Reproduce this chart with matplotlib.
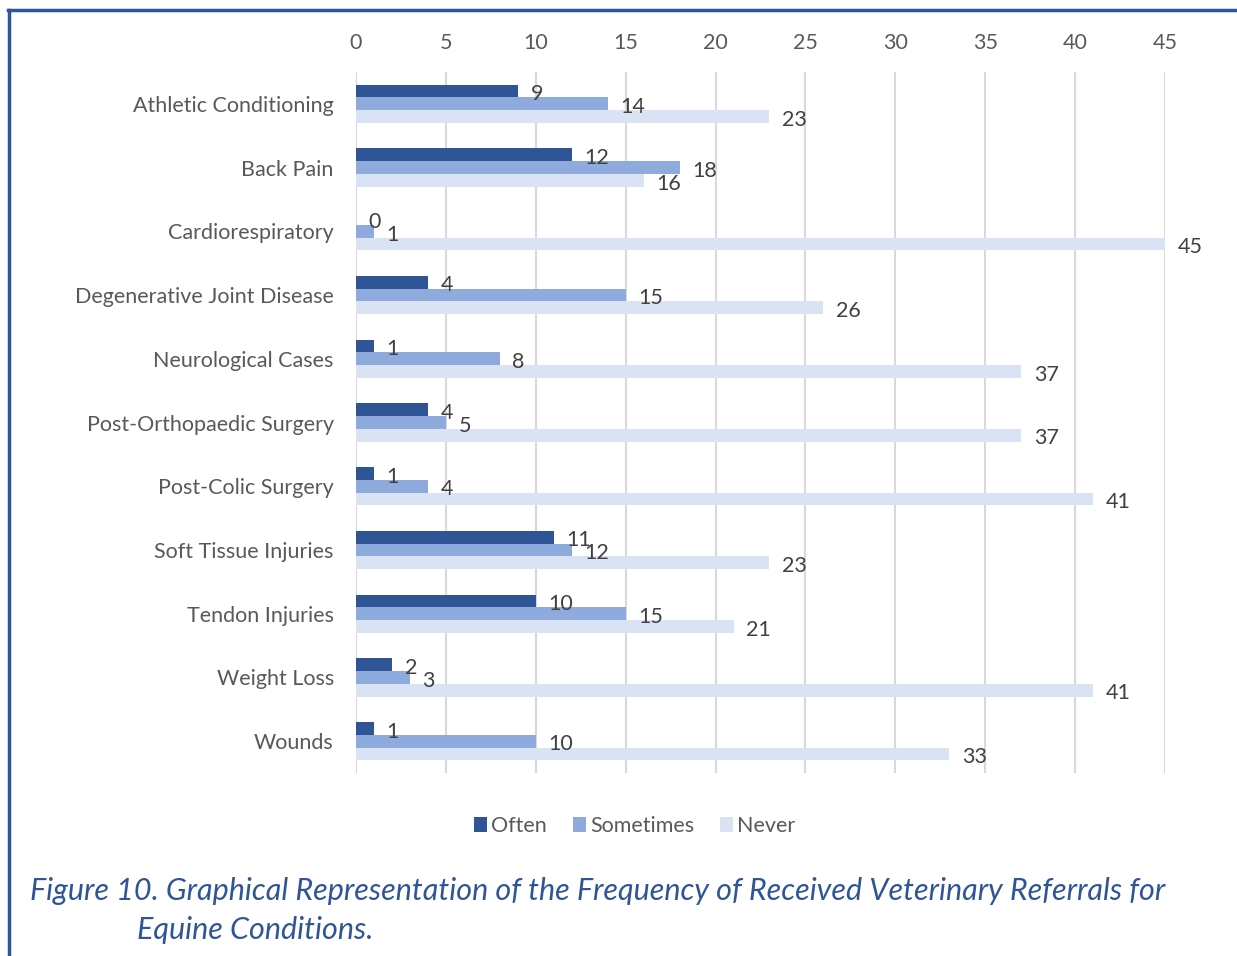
import matplotlib.pyplot as plt
import numpy as np
from matplotlib.lines import Line2D

categories = ["Athletic Conditioning", "Back Pain", "Cardiorespiratory",
              "Degenerative Joint Disease", "Neurological Cases",
              "Post-Orthopaedic Surgery", "Post-Colic Surgery",
              "Soft Tissue Injuries", "Tendon Injuries", "Weight Loss", "Wounds"]
often = [9, 12, 0, 4, 1, 4, 1, 11, 10, 2, 1]
sometimes = [14, 18, 1, 15, 8, 5, 4, 12, 15, 3, 10]
never = [23, 16, 45, 26, 37, 37, 41, 23, 21, 41, 33]
series_names = ["Often", "Sometimes", "Never"]
colors = ["#2F5597", "#8FAADC", "#DAE3F3"]
ticks = np.arange(0, 50, 5)

plt.rcParams['font.family'] = ['Lato', 'DejaVu Sans']
txt_col = "#595959"

fig = plt.figure(figsize=(12.37, 9.56), dpi=100)
ax = fig.add_axes([356 / 1237, 1 - 773 / 956, 809 / 1237, 701 / 956])

y = np.arange(len(categories))
h = 0.2
for i, (vals, c) in enumerate(zip([often, sometimes, never], colors)):
    pos = y + (i - 1) * h
    ax.barh(pos, vals, height=h, color=c, label=series_names[i], zorder=3)
    for p, v in zip(pos, vals):
        ax.text(v + 0.7, p + 0.05, str(v), va='center', ha='left', fontsize=15.5,
                color="#404040", zorder=4)

ax.set_xlim(0, 45)
ax.set_ylim(len(categories) - 0.5, -0.5)
ax.set_xticks(ticks)
ax.xaxis.tick_top()
ax.tick_params(axis='x', length=0, labelsize=15.5, labelcolor=txt_col, pad=14)
ax.set_yticks(y)
ax.set_yticklabels(categories)
ax.tick_params(axis='y', length=0, labelsize=15.5, labelcolor=txt_col, pad=16)
ax.grid(axis='x', color="#D9D9D9", linewidth=1.5, zorder=0)
for s in ax.spines.values():
    s.set_visible(False)

ax.legend(loc='center', bbox_to_anchor=(635 / 1237, 1 - 826 / 956),
          bbox_transform=fig.transFigure, ncol=3, frameon=False,
          fontsize=15.5, labelcolor=txt_col, handlelength=0.6,
          handleheight=0.7, handletextpad=0.2, columnspacing=1.2)

# outer border lines
fig.add_artist(Line2D([8 / 1237, 1], [1 - 10 / 956] * 2, color="#2F5597",
                      linewidth=2.5, transform=fig.transFigure))
fig.add_artist(Line2D([9 / 1237] * 2, [0, 1 - 10 / 956], color="#2F5597",
                      linewidth=2.5, transform=fig.transFigure))

cap_col = "#2F5597"
fig.text(30 / 1237, 1 - 891 / 956,
         "Figure 10. Graphical Representation of the Frequency of Received Veterinary Referrals for",
         fontsize=22, style='italic', color=cap_col, va='center', ha='left')
fig.text(137 / 1237, 1 - 930 / 956, "Equine Conditions.",
         fontsize=22, style='italic', color=cap_col, va='center', ha='left')

fig.savefig("out.png", dpi=100)
